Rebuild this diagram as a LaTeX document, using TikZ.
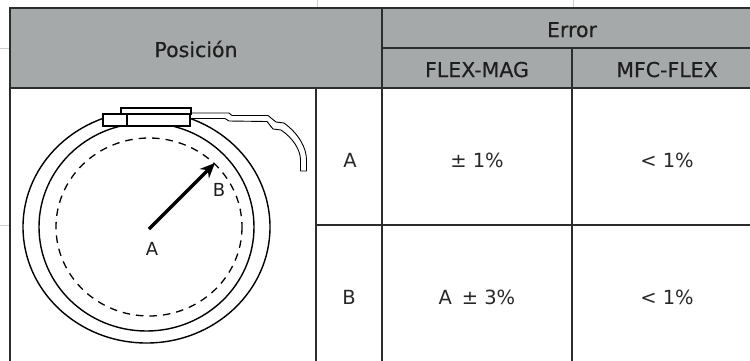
\documentclass[tikz,border=0pt]{standalone}
\usepackage{fontspec}
\setmainfont{DejaVu Sans}
\newfontfamily\hdrfont[FakeBold=0.35]{DejaVu Sans}
\usetikzlibrary{arrows.meta}
\definecolor{hdrgrey}{RGB}{166,169,169}
\definecolor{rulegrey}{RGB}{45,45,45}
\definecolor{txtgrey}{RGB}{30,30,30}
\definecolor{celltext}{RGB}{40,40,40}
\definecolor{faint}{RGB}{205,205,205}
\begin{document}
\begin{tikzpicture}[x=1pt,y=-1pt,
  gridline/.style={draw=rulegrey,line width=2pt},
  faintline/.style={draw=faint,line width=0.8pt},
  hdrtxt/.style={font=\hdrfont\fontsize{20.5}{24}\selectfont,text=txtgrey,anchor=base,inner sep=0pt},
  celltxt/.style={font=\fontsize{19.5}{22}\selectfont,text=celltext,anchor=base,inner sep=0pt},
  lbltxt/.style={font=\fontsize{18}{20}\selectfont,text=txtgrey,anchor=base,inner sep=0pt},
  ring/.style={draw=black,line width=1.4pt},
  dashring/.style={draw=black,line width=1.3pt,dash pattern=on 7.5pt off 6pt},
  clampbox/.style={draw=black,line width=1.2pt,fill=white},
  cable/.style={draw=black,line width=0.9pt,fill=white,line join=round},
  pointer/.style={line width=3.2pt,-{Stealth[length=15pt,width=13pt]}}]
\useasboundingbox (0,0) rectangle (750,360);
\clip (0,0) rectangle (750,360);
% header background
\fill[hdrgrey] (10,8) rectangle (770,88);
% faint artifacts outside the table
\draw[faintline] (317,0) -- (317,8);
\draw[faintline] (573,0) -- (573,8);
\draw[faintline] (0,48) -- (10,48);
\draw[faintline] (0,225) -- (10,225);
% grid
\draw[gridline] (9,8) -- (770,8);
\draw[gridline] (10,7) -- (10,370);
\draw[gridline] (382,8) -- (382,370);
\draw[gridline] (382,48) -- (770,48);
\draw[gridline] (572,48) -- (572,370);
\draw[gridline] (10,88) -- (770,88);
\draw[gridline] (316,88) -- (316,370);
\draw[gridline] (316,225) -- (770,225);
% header texts
\node[hdrtxt] (hpos) at (196,57) {Posición};
\node[hdrtxt] (herr) at (572,37) {Error};
\node[hdrtxt] (hfm) at (477,77) {FLEX-MAG};
\node[hdrtxt] (hmf) at (667,77) {MFC-FLEX};
% body texts
\node[celltxt] (ra) at (350,167) {A};
\node[celltxt] (ra1) at (477,167) {± 1\%};
\node[celltxt] (ra2) at (667,167) {< 1\%};
\node[celltxt] (rb) at (349,304) {B};
\node[celltxt] (rb1) at (477,304) {A\enspace± 3\%};
\node[celltxt] (rb2) at (667,304) {< 1\%};
% sensor drawing
\draw[ring] (146.5,227) ellipse [x radius=123.5, y radius=116];
\draw[ring] (146.5,227) ellipse [x radius=107.5, y radius=104];
\draw[dashring] (149,227) ellipse [x radius=93, y radius=89];
\draw[cable] (190,113) -- (229,113) -- (232,115.5) -- (268,115.5) -- (276,122) -- (284,123)
  .. controls (299,134) and (306.5,148) .. (306.5,160) -- (306.5,171) -- (300.5,171) -- (300.5,160)
  .. controls (300.5,150) and (293,138) .. (281,130) -- (273,129) -- (267,121.5)
  -- (229,121) -- (225,118.5) -- (190,118.5) -- cycle;
\draw[clampbox] (103,114) rectangle (190,126);
\draw[clampbox] (121,108) rectangle (191,114);
\draw[black,line width=1.2pt] (127,114) -- (127,126);
\coordinate (ctr) at (149,229);
\coordinate (tip) at (215,163);
\draw[pointer] (ctr) -- (tip);
\node[lbltxt] (la) at (152,255) {A};
\node[lbltxt] (lb) at (219,196) {B};
\end{tikzpicture}
\end{document}
